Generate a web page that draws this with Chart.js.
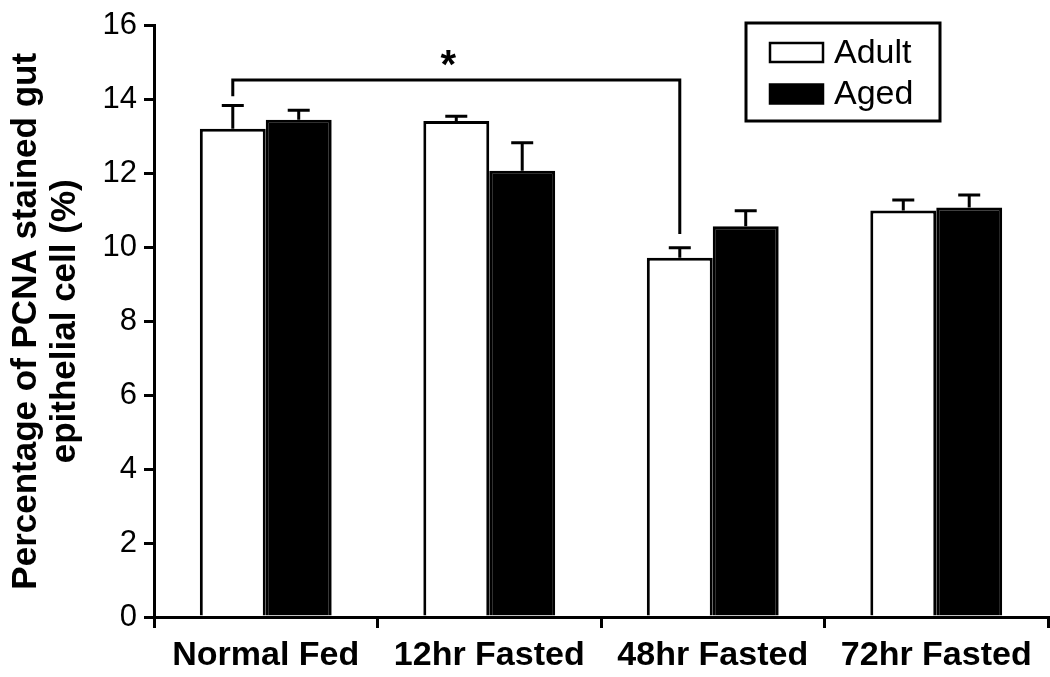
<!DOCTYPE html>
<html>
<head>
<meta charset="utf-8">
<script src="https://cdn.jsdelivr.net/npm/chart.js@4"></script>
<style>
  html, body { margin: 0; padding: 0; background: #fff; }
  #wrap { width: 1050px; height: 677px; }
</style>
</head>
<body>
<div id="wrap"><canvas id="pcnaChart" width="1050" height="677"></canvas></div>
<script>
// Données
const groups = ['Normal Fed', '12hr Fasted', '48hr Fasted', '72hr Fasted'];
const adultMean = [13.21, 13.42, 9.72, 11.0];
const adultErr = [0.63, 0.13, 0.27, 0.28];
const agedMean = [13.45, 12.07, 10.57, 11.08];
const agedErr = [0.26, 0.76, 0.42, 0.34];

// Crochet de significativité : Normal Fed (Adult) vs 48hr Fasted (Adult)
const bracketFrom = 0, bracketTo = 2;
const bracketTop = 14.53, bracketLeftEnd = 14.09, bracketRightEnd = 10.36;
const bracketMark = '*';

const black = '#000';
const fontName = "'Liberation Sans', Arial, sans-serif";

// Barres d'erreur (vers le haut seulement)
const errorBars = {
    id: 'errorBars',
    afterDatasetsDraw(chart) {
        const ctx = chart.ctx;
        const y = chart.scales.y;
        ctx.save();
        ctx.strokeStyle = black;
        ctx.lineWidth = 3;
        chart.data.datasets.forEach((ds, i) => {
            const meta = chart.getDatasetMeta(i);
            meta.data.forEach((bar, j) => {
                const top = y.getPixelForValue(ds.data[j]);
                const end = y.getPixelForValue(ds.data[j] + ds.err[j]);
                ctx.beginPath();
                ctx.moveTo(bar.x, top);
                ctx.lineTo(bar.x, end);
                ctx.moveTo(bar.x - 11, end);
                ctx.lineTo(bar.x + 11, end);
                ctx.stroke();
            });
        });
        ctx.restore();
    }
};

// Crochet + astérisque
const bracket = {
    id: 'bracket',
    afterDatasetsDraw(chart) {
        const ctx = chart.ctx;
        const y = chart.scales.y;
        const bars = chart.getDatasetMeta(0).data;
        const x1 = bars[bracketFrom].x, x2 = bars[bracketTo].x;
        const yTop = y.getPixelForValue(bracketTop);
        ctx.save();
        ctx.strokeStyle = black;
        ctx.lineWidth = 3;
        ctx.beginPath();
        ctx.moveTo(x1, y.getPixelForValue(bracketLeftEnd));
        ctx.lineTo(x1, yTop);
        ctx.lineTo(x2, yTop);
        ctx.lineTo(x2, y.getPixelForValue(bracketRightEnd));
        ctx.stroke();
        ctx.fillStyle = black;
        ctx.font = 'bold 40px ' + fontName;
        ctx.textAlign = 'center';
        ctx.textBaseline = 'alphabetic';
        ctx.fillText(bracketMark, (x1 + x2) / 2 - 8, yTop - 2);
        ctx.restore();
    }
};

// Légende encadrée
const boxedLegend = {
    id: 'boxedLegend',
    afterDraw(chart) {
        const ctx = chart.ctx;
        ctx.save();
        ctx.strokeStyle = black;
        ctx.lineWidth = 3;
        ctx.strokeRect(746, 23, 194, 98);
        ctx.font = '34px ' + fontName;
        ctx.textBaseline = 'middle';
        ctx.fillStyle = black;
        chart.data.datasets.forEach((ds, i) => {
            const cy = 52.5 + i * 41.5;
            ctx.fillStyle = ds.backgroundColor;
            ctx.fillRect(770, cy - 9.5, 53, 19);
            ctx.lineWidth = 2.5;
            ctx.strokeRect(770, cy - 9.5, 53, 19);
            ctx.fillStyle = black;
            ctx.fillText(ds.label, 834, cy + 1);
        });
        ctx.restore();
    }
};

new Chart(document.getElementById('pcnaChart'), {
    type: 'bar',
    data: {
        labels: groups,
        datasets: [
            {
                label: 'Adult',
                data: adultMean,
                err: adultErr,
                backgroundColor: '#fff',
                borderColor: black,
                borderWidth: 3,
                borderSkipped: 'bottom'
            },
            {
                label: 'Aged',
                data: agedMean,
                err: agedErr,
                backgroundColor: black,
                borderColor: black,
                borderWidth: 3,
                borderSkipped: 'bottom'
            }
        ]
    },
    options: {
        responsive: false,
        animation: false,
        categoryPercentage: 0.59,
        barPercentage: 1,
        layout: { padding: { top: 25, right: 2, left: 0, bottom: 0 } },
        plugins: {
            legend: { display: false },
            tooltip: { enabled: false }
        },
        scales: {
            x: {
                offset: true,
                grid: {
                    offset: true,
                    drawOnChartArea: false,
                    drawTicks: true,
                    tickLength: 11,
                    color: black,
                    lineWidth: 3
                },
                border: { display: true, color: black, width: 3 },
                ticks: {
                    color: black,
                    padding: 7,
                    font: { family: fontName, size: 34, weight: 'bold' },
                    maxRotation: 0
                },
                afterFit(scale) { scale.height = 60; }
            },
            y: {
                min: 0,
                max: 16,
                ticks: {
                    stepSize: 2,
                    color: black,
                    padding: 7,
                    font: { family: fontName, size: 31 }
                },
                grid: {
                    drawOnChartArea: false,
                    drawTicks: true,
                    tickLength: 10,
                    color: black,
                    lineWidth: 3
                },
                border: { display: true, color: black, width: 3 },
                title: {
                    display: true,
                    text: ['Percentage of PCNA stained gut', 'epithelial cell (%)'],
                    color: black,
                    font: { family: fontName, size: 35, weight: 'bold', lineHeight: 1.12 },
                    padding: { top: 7, bottom: 0 }
                },
                afterFit(scale) { scale.width = 154; }
            }
        }
    },
    plugins: [errorBars, bracket, boxedLegend]
});
</script>
</body>
</html>
